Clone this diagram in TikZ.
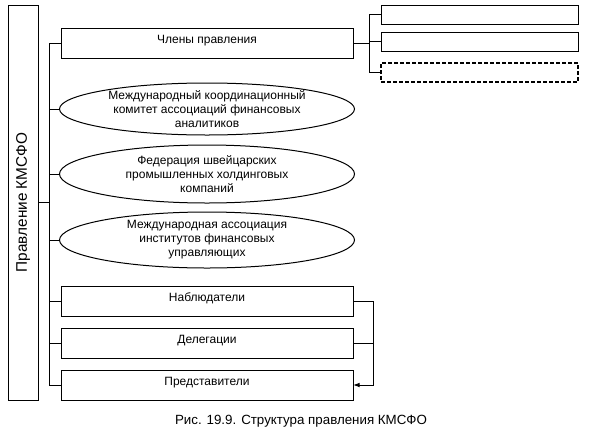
\documentclass[tikz,border=0pt]{standalone}
\usepackage{fontspec}
\setmainfont{Liberation Sans}
\usetikzlibrary{positioning,arrows.meta,shapes.geometric}

\begin{document}
\begin{tikzpicture}[x=0.75pt, y=-0.75pt,
  font=\fontsize{9}{10.5}\selectfont,
  line width=0.75pt,
  every node/.style={outer sep=0pt},
  box/.style={draw, minimum width=219pt, minimum height=22.5pt, inner sep=0pt, text height=6.5pt, text depth=6pt},
  oval/.style={draw, ellipse, align=center, minimum width=221.25pt, inner xsep=0pt, inner ysep=-3pt},
  slot/.style={draw, minimum width=147.75pt, minimum height=14.25pt, inner sep=0pt},
  arr/.style={-{Latex[length=5pt,width=3.5pt]}}
]
\useasboundingbox (0,0) rectangle (606,447);

\node[draw, rotate=90, minimum width=296.25pt, minimum height=22.5pt, font=\fontsize{11.5}{13}\selectfont] (kmsfo) at (23,202.5) {Правление КМСФО};

\node[box] (members) at (207,43) {Члены правления};
\node[oval, minimum height=39pt, below=18.75pt of members] (mkk) {Международный координационный\\комитет ассоциаций финансовых\\аналитиков};
\node[oval, minimum height=43.5pt, below=7.5pt of mkk] (fed) {Федерация швейцарских\\промышленных холдинговых\\компаний};
\node[oval, minimum height=42pt, below=6.75pt of fed] (assoc) {Международная ассоциация\\институтов финансовых\\управляющих};
\node[box, below=13.5pt of assoc] (obs) {Наблюдатели};
\node[box, below=9pt of obs] (deleg) {Делегации};
\node[box, below=9pt of deleg] (repr) {Представители};

\node[slot] (s1) at (479.5,14.5) {};
\node[slot, below=6pt of s1] (s2) {};
\node[slot, dashed, dash pattern=on 3pt off 1.5pt, line width=1.5pt, below=9pt of s2] (s3) {};

\coordinate (trunk) at (49,0);
\coordinate (fork) at (369,0);
\coordinate (loop) at (373,0);

\draw (members.west -| trunk) -- (repr.west -| trunk);
\draw (kmsfo.south) -- (kmsfo.south -| trunk);
\foreach \n in {members,mkk,fed,assoc,obs,deleg,repr}
  \draw (\n.west) -- (\n.west -| trunk);

\draw (members.east) -- (members.east -| fork);
\draw (s1.west -| fork) -- (s3.west -| fork);
\foreach \n in {s1,s2,s3}
  \draw (\n.west) -- (\n.west -| fork);

\draw[arr] (obs.east) -| (loop |- repr.east) -- (repr.east);
\draw (deleg.east) -- (deleg.east -| loop);

\node[font=\fontsize{10}{12}\selectfont] (caption) at (301,421) {Рис. 19.9. Структура правления КМСФО};
\end{tikzpicture}
\end{document}
